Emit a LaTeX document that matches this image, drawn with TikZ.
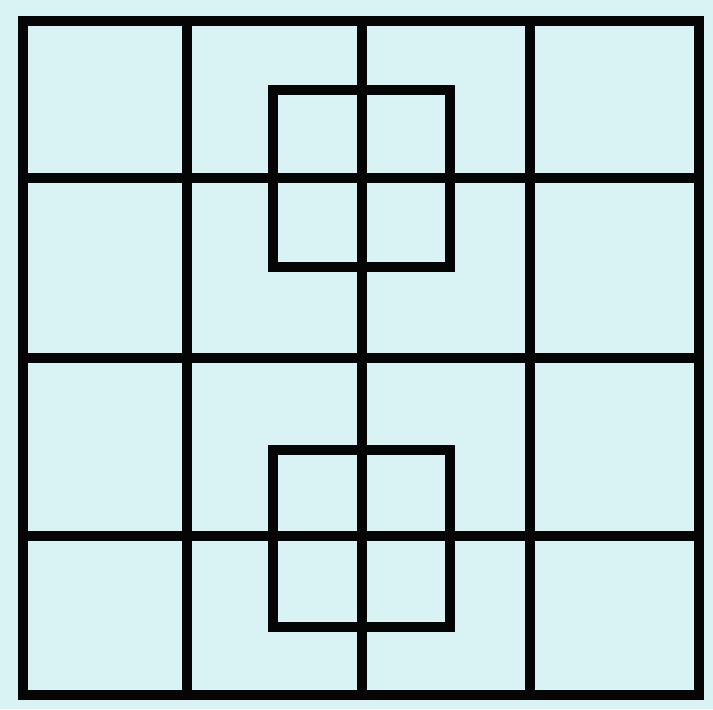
\documentclass[tikz,border=0pt]{standalone}
\usepackage{xcolor}
\definecolor{paleaqua}{HTML}{D9F2F3}
\definecolor{ink}{HTML}{050505}
\begin{document}
\begin{tikzpicture}[x=0.5pt,y=-0.5pt,line width=5pt]
\fill[paleaqua] (0,0) rectangle (713,709);
\draw[ink] (23,21) rectangle (699,695);
\foreach \x in {187,362,530}{\draw[ink] (\x,21)--(\x,695);}
\foreach \y in {178,358,536}{\draw[ink] (23,\y)--(699,\y);}
\draw[ink] (273,90) rectangle (450,267);
\draw[ink] (273,450) rectangle (450,627);
\end{tikzpicture}
\end{document}
